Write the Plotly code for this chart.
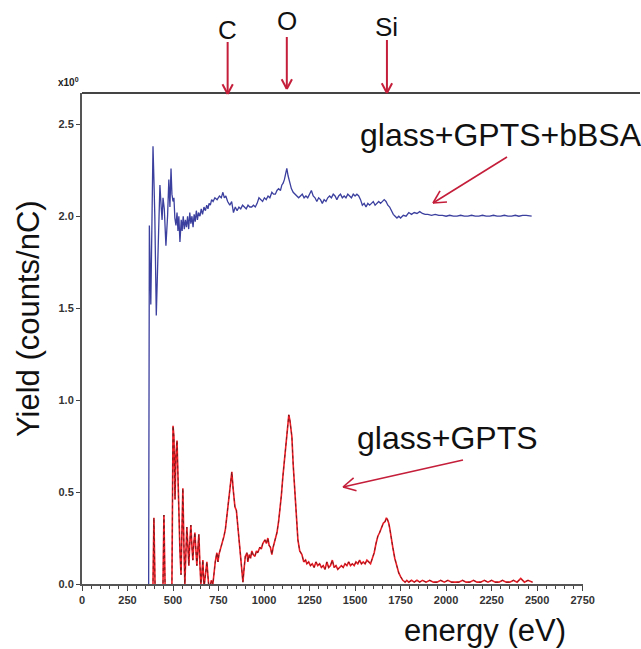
import math
import plotly.graph_objects as go

# ---- data ----
bsa_energy = [
    366, 367, 370, 378, 390, 395, 400, 408, 415, 428,
    435, 440, 445, 452, 461, 470, 477, 483, 489, 494,
    500, 505, 510, 516, 522, 527, 532, 538, 545, 550,
    556, 562, 568, 574, 580, 586, 592, 598, 604, 610,
    616, 622, 628, 634, 640, 648, 655, 662, 670, 678,
    685, 692, 698, 705, 712, 720, 730, 742, 755, 765,
    774, 782, 790, 800, 812, 822, 832, 842, 852, 862,
    872, 882, 892, 902, 912, 922, 932, 942, 952, 962,
    972, 982, 992, 1002, 1012, 1022, 1032, 1043, 1052, 1062,
    1071, 1080, 1090, 1098, 1105, 1112, 1118, 1125, 1132, 1140,
    1150, 1160, 1170, 1180, 1190, 1200, 1210, 1220, 1230, 1240,
    1250, 1260, 1270, 1280, 1290, 1300, 1310, 1320, 1330, 1340,
    1350, 1360, 1370, 1380, 1390, 1400, 1410, 1420, 1430, 1440,
    1450, 1460, 1470, 1480, 1490, 1500, 1510, 1520, 1530, 1540,
    1550, 1560, 1570, 1580, 1590, 1600, 1610, 1620, 1630, 1640,
    1650, 1660, 1670, 1680, 1690, 1700, 1710, 1720, 1730, 1740,
    1750, 1765, 1780, 1795, 1810, 1825, 1840, 1855, 1870, 1885,
    1900, 1920, 1940, 1960, 1980, 2000, 2020, 2040, 2060, 2080,
    2100, 2120, 2140, 2160, 2180, 2200, 2220, 2240, 2260, 2280,
    2300, 2320, 2340, 2360, 2380, 2400, 2420, 2440, 2460, 2470,
]
bsa_yield = [
    -0.05, 1.47, 1.95, 1.52, 2.38, 2.20, 2.00, 1.46, 1.70, 2.17,
    2.05, 1.98, 2.10, 2.04, 1.84, 2.00, 2.20, 2.05, 2.26, 2.12,
    2.08, 2.10, 1.99, 1.95, 2.02, 1.92, 2.00, 1.86, 1.98, 1.92,
    2.00, 1.93, 1.98, 1.94, 2.00, 1.93, 2.02, 1.96, 2.00, 1.94,
    2.01, 1.97, 2.03, 1.98, 2.02, 2.00, 2.04, 2.01, 2.05, 2.03,
    2.06, 2.04, 2.07, 2.06, 2.09, 2.08, 2.10, 2.09, 2.11, 2.10,
    2.13, 2.10, 2.11, 2.08, 2.06, 2.08, 2.02, 2.05, 2.03, 2.05,
    2.04, 2.06, 2.05, 2.04, 2.06, 2.05, 2.05, 2.06, 2.05, 2.07,
    2.10, 2.09, 2.08, 2.10, 2.09, 2.11, 2.10, 2.13, 2.12, 2.12,
    2.14, 2.15, 2.14, 2.17, 2.18, 2.20, 2.23, 2.26, 2.22, 2.18,
    2.15, 2.13, 2.12, 2.11, 2.10, 2.11, 2.12, 2.10, 2.11, 2.10,
    2.12, 2.14, 2.11, 2.10, 2.08, 2.10, 2.09, 2.07, 2.09, 2.08,
    2.10, 2.11, 2.10, 2.12, 2.11, 2.09, 2.11, 2.12, 2.10, 2.11,
    2.10, 2.12, 2.11, 2.10, 2.12, 2.11, 2.12, 2.11, 2.09, 2.06,
    2.07, 2.05, 2.07, 2.06, 2.07, 2.08, 2.06, 2.07, 2.08, 2.07,
    2.08, 2.09, 2.08, 2.06, 2.05, 2.03, 2.01, 2.00, 1.99, 2.00,
    1.99, 2.005, 2.00, 2.02, 2.01, 2.02, 2.015, 2.025, 2.015, 2.01,
    2.01, 2.005, 2.01, 2.005, 2.005, 2.00, 2.005, 2.00, 2.00, 2.005,
    2.00, 2.00, 2.005, 2.00, 2.00, 2.005, 2.00, 2.00, 2.005, 2.00,
    2.00, 2.005, 2.00, 2.00, 2.005, 2.00, 2.005, 2.005, 2.00, 2.00,
]

gpts_energy = [
    388, 390, 395, 400, 402, 440, 445, 450, 455, 457,
    488, 494, 500, 505, 511, 516, 522, 530, 538, 544,
    549, 554, 560, 565, 570, 576, 582, 587, 592, 598,
    604, 609, 614, 620, 626, 631, 637, 642, 648, 653,
    658, 664, 670, 676, 686, 692, 698, 703, 710, 719,
    725, 732, 741, 747, 752, 758, 766, 774, 780, 788,
    796, 804, 812, 818, 823, 830, 840, 848, 856, 862,
    867, 876, 884, 890, 897, 906, 911, 918, 926, 933,
    940, 950, 958, 965, 977, 985, 993, 1005, 1013, 1021,
    1028, 1035, 1043, 1050, 1057, 1064, 1071, 1080, 1087, 1095,
    1103, 1110, 1118, 1125, 1131, 1136, 1142, 1148, 1153, 1160,
    1169, 1177, 1186, 1196, 1208, 1218, 1228, 1235, 1245, 1255,
    1265, 1275, 1285, 1295, 1305, 1315, 1325, 1335, 1345, 1355,
    1365, 1375, 1385, 1395, 1405, 1415, 1425, 1435, 1445, 1455,
    1465, 1475, 1485, 1495, 1505, 1515, 1525, 1535, 1545, 1555,
    1565, 1575, 1585, 1595, 1605, 1615, 1625, 1635, 1645, 1655,
    1665, 1672, 1678, 1685, 1691, 1698, 1707, 1718, 1729, 1740,
    1750, 1762, 1775, 1784, 1795, 1810, 1825, 1840, 1855, 1870,
    1890, 1910, 1930, 1950, 1970, 1990, 2010, 2030, 2050, 2070,
    2090, 2110, 2130, 2150, 2170, 2190, 2210, 2230, 2250, 2270,
    2290, 2310, 2330, 2350, 2370, 2390, 2410, 2430, 2450, 2475,
]
gpts_yield = [
    -0.05, 0.00, 0.36, 0.00, -0.05, -0.05, 0.00, 0.375, 0.00, -0.05,
    -0.03, 0.00, 0.86, 0.80, 0.46, 0.70, 0.78, 0.40, 0.18, 0.05,
    0.25, 0.52, 0.20, 0.00, 0.15, 0.31, 0.20, 0.10, 0.22, 0.32,
    0.20, 0.13, 0.22, 0.28, 0.18, 0.10, 0.20, 0.27, 0.10, 0.00,
    0.05, 0.13, -0.02, 0.05, 0.12, 0.04, -0.03, -0.02, 0.02, 0.00,
    0.08, 0.12, 0.17, 0.12, 0.16, 0.18, 0.20, 0.24, 0.26, 0.30,
    0.38, 0.46, 0.54, 0.58, 0.61, 0.52, 0.42, 0.40, 0.31, 0.25,
    0.18, 0.08, 0.01, 0.08, 0.15, 0.17, 0.12, 0.16, 0.14, 0.18,
    0.16, 0.15, 0.18, 0.17, 0.20, 0.19, 0.22, 0.24, 0.22, 0.25,
    0.21, 0.20, 0.16, 0.20, 0.23, 0.26, 0.28, 0.34, 0.40, 0.48,
    0.58, 0.66, 0.75, 0.82, 0.88, 0.92, 0.89, 0.84, 0.80, 0.65,
    0.49, 0.35, 0.24, 0.18, 0.16, 0.12, 0.13, 0.11, 0.12, 0.10,
    0.11, 0.09, 0.12, 0.10, 0.11, 0.09, 0.10, 0.08, 0.12, 0.09,
    0.10, 0.13, 0.09, 0.10, 0.08, 0.09, 0.10, 0.09, 0.11, 0.10,
    0.12, 0.10, 0.11, 0.10, 0.12, 0.11, 0.13, 0.11, 0.12, 0.11,
    0.13, 0.12, 0.11, 0.14, 0.17, 0.22, 0.26, 0.28, 0.31, 0.33,
    0.34, 0.36, 0.35, 0.33, 0.30, 0.25, 0.20, 0.14, 0.10, 0.06,
    0.04, 0.02, 0.01, 0.02, 0.01, 0.02, 0.01, 0.02, 0.01, 0.02,
    0.01, 0.02, 0.01, 0.01, 0.02, 0.01, 0.02, 0.01, 0.01, 0.01,
    0.02, 0.01, 0.01, 0.02, 0.01, 0.01, 0.02, 0.01, 0.02, 0.01,
    0.01, 0.02, 0.01, 0.01, 0.02, 0.01, 0.03, 0.01, 0.02, 0.01,
]

x_ticks = [0, 250, 500, 750, 1000, 1250, 1500, 1750, 2000, 2250, 2500, 2750]
y_ticks = [0.0, 0.5, 1.0, 1.5, 2.0, 2.5]

elements = ["C", "O", "Si"]
element_energy = [800, 1125, 1675]

label_bsa = "glass+GPTS+bBSA"
label_gpts = "glass+GPTS"

# ---- figure ----
W, H = 641, 649
L, R, T, B = 82, 58, 93, 65
PW, PH = W - L - R, H - T - B


def px(xp):
    return (xp - L) / PW


def py(yp):
    return (H - B - yp) / PH


def e2px(e):
    return L + e / 2752 * PW


fig = go.Figure()
fig.add_trace(go.Scatter(x=bsa_energy, y=bsa_yield, mode="lines",
                         line=dict(color="#3b3f9e", width=1.3), name=label_bsa))
fig.add_trace(go.Scatter(x=gpts_energy, y=gpts_yield, mode="lines",
                         line=dict(color="#ee1c25", width=1.6), name=label_gpts))
fig.add_trace(go.Scatter(x=gpts_energy, y=gpts_yield, mode="lines",
                         line=dict(color="#4a1a1a", width=0.7, dash="dot"),
                         name=label_gpts, hoverinfo="skip"))

tickfont = dict(family="Arial", size=11, color="#333", weight="bold")
fig.update_layout(
    width=W, height=H,
    margin=dict(l=L, r=R, t=T, b=B),
    plot_bgcolor="white", paper_bgcolor="white",
    showlegend=False,
    xaxis=dict(range=[0, 2752], tickvals=x_ticks, ticks="outside", ticklen=5,
               tickcolor="#444", showline=True, linecolor="#555", linewidth=1.5,
               showgrid=False, zeroline=False, tickfont=tickfont,
               minor=dict(dtick=50, ticks="outside", ticklen=3, tickcolor="#444")),
    yaxis=dict(range=[0, 2.67], tickvals=y_ticks, tickformat=".1f", ticks="outside",
               ticklen=4, tickcolor="#444", showline=True, linecolor="#555",
               linewidth=2, showgrid=False, zeroline=False, tickfont=tickfont),
)

# top frame line
fig.add_shape(type="line", xref="paper", yref="paper", x0=0, x1=px(640), y0=1, y1=1,
              line=dict(color="#444", width=2))

ARROW = "#c41e3a"


def arrow(tail, tip, width=2.0, head=11.0):
    """Draw an open-V arrow between two pixel positions as paper-space shapes."""
    (x1, y1), (x0, y0) = tail, tip
    fig.add_shape(type="line", xref="paper", yref="paper",
                  x0=px(x1), y0=py(y1), x1=px(x0), y1=py(y0),
                  line=dict(color=ARROW, width=width))
    dx, dy = x0 - x1, y0 - y1
    n = math.hypot(dx, dy)
    ux, uy = dx / n, dy / n
    for a in (math.radians(28), -math.radians(28)):
        rx = ux * math.cos(a) - uy * math.sin(a)
        ry = ux * math.sin(a) + uy * math.cos(a)
        fig.add_shape(type="line", xref="paper", yref="paper",
                      x0=px(x0), y0=py(y0), x1=px(x0 - head * rx), y1=py(y0 - head * ry),
                      line=dict(color=ARROW, width=width))


ann = []
ann.append(dict(text="x10<sup>0</sup>", xref="paper", yref="paper", x=px(56), y=py(82),
                xanchor="left", yanchor="middle", showarrow=False,
                font=dict(family="Arial", size=10, color="#222", weight="bold")))
ann.append(dict(text="Yield (counts/nC)", xref="paper", yref="paper", x=px(28), y=py(319),
                textangle=-90, showarrow=False, xanchor="center", yanchor="middle",
                font=dict(family="Arial", size=31, color="#111")))
ann.append(dict(text="energy (eV)", xref="paper", yref="paper", x=px(485), y=py(630),
                showarrow=False, xanchor="center", yanchor="middle",
                font=dict(family="Arial", size=31, color="#111")))

label_y = [30, 21, 27]
tail_y = [42, 37, 40]
tip_y = [94, 89, 93]
for name, e, ly, ty, tpy in zip(elements, element_energy, label_y, tail_y, tip_y):
    ann.append(dict(text=name, xref="x", yref="paper", x=e, y=py(ly),
                    showarrow=False, xanchor="center", yanchor="middle",
                    font=dict(family="Arial", size=26, color="#111")))
    xp = e2px(e)
    arrow((xp, ty), (xp, tpy))

ann.append(dict(text=label_bsa, xref="paper", yref="paper", x=px(358), y=py(135),
                showarrow=False, xanchor="left", yanchor="middle",
                font=dict(family="Arial", size=32, color="#111")))
arrow((507, 157), (433, 203), width=1.6, head=14)
ann.append(dict(text=label_gpts, xref="paper", yref="paper", x=px(355), y=py(438),
                showarrow=False, xanchor="left", yanchor="middle",
                font=dict(family="Arial", size=32, color="#111")))
arrow((463, 460), (343, 487), width=1.6, head=14)

fig.update_layout(annotations=ann)
fig.write_html("out.html", config={"displayModeBar": False},
               post_script="document.body.style.margin='0';")
